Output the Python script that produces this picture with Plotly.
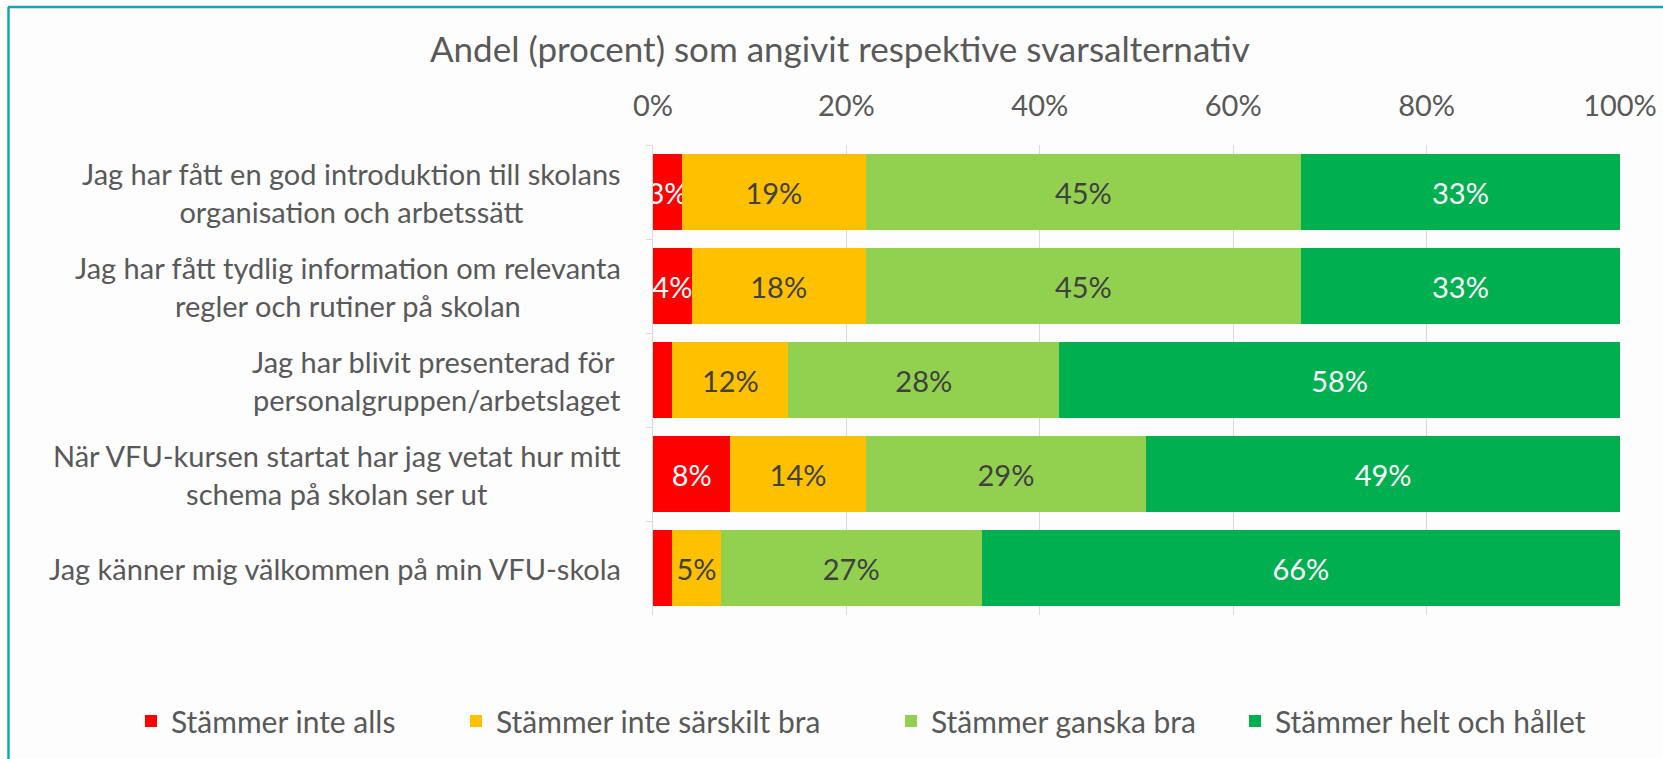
import plotly.graph_objects as go

categories = [
    "Jag har fått en god introduktion till skolans<br>organisation och arbetssätt",
    "Jag har fått tydlig information om relevanta<br>regler och rutiner på skolan",
    "Jag har blivit presenterad för <br>personalgruppen/arbetslaget",
    "När VFU-kursen startat har jag vetat hur mitt<br>schema på skolan ser ut",
    "Jag känner mig välkommen på min VFU-skola",
]
series_names = ["Stämmer inte alls", "Stämmer inte särskilt bra", "Stämmer ganska bra", "Stämmer helt och hållet"]
inte_alls = [3, 4, 2, 8, 2]
inte_sarskilt = [19, 18, 12, 14, 5]
ganska_bra = [45, 45, 28, 29, 27]
helt_hallet = [33, 33, 58, 49, 66]
# labels shown in reference (hidden for the smallest red segments)
inte_alls_labels = ["3%", "4%", "", "8%", ""]

tick_vals = [0, 20, 40, 60, 80, 100]
tick_text = ["0%", "20%", "40%", "60%", "80%", "100%"]
title_text = "Andel (procent) som angivit respektive svarsalternativ"

colors = ["#FF0000", "#FFC000", "#92D050", "#00B050"]
label_colors = ["#FFFFFF", "#404040", "#404040", "#FFFFFF"]
FONT = "Lato"
FS = 29
LFS = 30
TFS = 35

W, H = 1663, 759
ML, MR, MT, MB = 653, 43, 145, 144
pw, ph = W - ML - MR, H - MT - MB


def px_x(p):
    return (p - ML) / pw


def px_y(p):
    return 1 - (p - MT) / ph


fig = go.Figure()
all_vals = [inte_alls, inte_sarskilt, ganska_bra, helt_hallet]
legend_ids = ["legend", "legend2", "legend3", "legend4"]
legend_square_px = [145, 470, 905, 1249]
for i, (name, vals) in enumerate(zip(series_names, all_vals)):
    texts = inte_alls_labels if i == 0 else [f"{v}%" for v in vals]
    fig.add_trace(go.Bar(
        y=categories, x=vals, name=name, orientation="h",
        marker=dict(color=colors[i], line=dict(width=0)),
        text=texts, textposition="inside", insidetextanchor="middle",
        constraintext="none", textangle=0,
        textfont=dict(family=FONT, size=FS, color=label_colors[i]),
        hoverinfo="skip", legend=legend_ids[i],
    ))

# category labels as centred multi-line annotations
for c in categories:
    fig.add_annotation(x=0, xref="paper", y=c, yref="y", text=c, showarrow=False,
                       xanchor="right", align="center", xshift=-30,
                       font=dict(family=FONT, size=FS, color="#595959"))

# border (top and left visible in reference)
border = "#17A2B8"
fig.add_shape(type="line", xref="paper", yref="paper", x0=px_x(8), x1=px_x(W + 10),
              y0=px_y(7), y1=px_y(7), line=dict(color=border, width=2.5), layer="above")
fig.add_shape(type="line", xref="paper", yref="paper", x0=px_x(8.5), x1=px_x(8.5),
              y0=px_y(7), y1=px_y(H + 10), line=dict(color=border, width=2.5), layer="above")

legend_layouts = {}
for lid, sq in zip(legend_ids, legend_square_px):
    legend_layouts[lid] = dict(
        orientation="h", xref="paper", x=px_x(sq - 14), xanchor="left",
        yref="paper", y=px_y(721), yanchor="middle",
        font=dict(family=FONT, size=LFS, color="#595959"),
        itemwidth=30, bgcolor="rgba(0,0,0,0)", borderwidth=0,
    )

fig.update_layout(
    width=W, height=H,
    barmode="stack", bargap=0.2,
    margin=dict(l=ML, r=MR, t=MT, b=MB, autoexpand=False),
    paper_bgcolor="#FDFDFD", plot_bgcolor="#FDFDFD",
    font=dict(family=FONT, size=FS, color="#595959"),
    title=dict(text=title_text, x=0.505, xref="container", xanchor="center",
               y=1 - 50 / H, yref="container", yanchor="middle",
               font=dict(family=FONT, size=TFS, color="#595959")),
    xaxis=dict(side="top", range=[0, 100], tickvals=tick_vals, ticktext=tick_text,
               showgrid=True, gridcolor="#D9D9D9", gridwidth=1.3, zeroline=False,
               ticks="", ticklabelstandoff=22,
               tickfont=dict(family=FONT, size=FS, color="#595959"), fixedrange=True),
    yaxis=dict(autorange="reversed", showticklabels=False, tickson="boundaries",
               ticks="outside", ticklen=6, tickcolor="#D9D9D9", tickwidth=1.3,
               showline=True, linecolor="#D9D9D9", linewidth=1.3, showgrid=False),
    showlegend=True,
    **legend_layouts,
)

fig.write_html("out.html", config={"displayModeBar": False},
               post_script="document.body.style.margin='0';document.body.style.overflow='hidden';")
